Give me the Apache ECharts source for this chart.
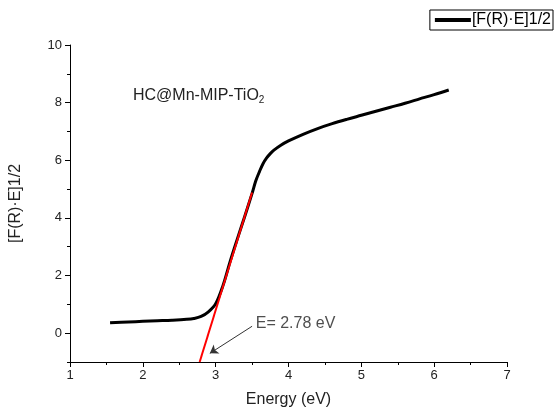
<!DOCTYPE html>
<html>
<head>
<meta charset="utf-8">
<script src="https://cdn.jsdelivr.net/npm/echarts@6/dist/echarts.min.js"></script>
<style>
  html, body { margin: 0; padding: 0; background: #fff; }
  #chart { width: 555px; height: 410px; }
</style>
</head>
<body>
<div id="chart"></div>
<script>
// Photon energy (eV) and the Kubelka-Munk Tauc function [F(R)·E]^1/2
const energy = [1.55, 1.8, 2.0, 2.2, 2.4, 2.6, 2.7, 2.8, 2.9, 3.0, 3.1, 3.2, 3.3, 3.4, 3.5,
                3.55, 3.6, 3.65, 3.7, 3.75, 3.8, 3.9, 4.0, 4.2, 4.4, 4.6, 4.8, 5.0, 5.2, 5.4,
                5.6, 5.8, 6.0, 6.2];
const tauc = [0.36, 0.39, 0.41, 0.43, 0.45, 0.48, 0.51, 0.58, 0.74, 1.02, 1.65, 2.5, 3.29, 4.06, 4.85,
              5.28, 5.6, 5.88, 6.08, 6.23, 6.35, 6.53, 6.67, 6.9, 7.1, 7.27, 7.42, 7.56, 7.7, 7.84,
              7.98, 8.13, 8.28, 8.44];

// Linear extrapolation of the absorption edge
const bandGap = 2.78;
const fitX = [bandGap, 3.5];
const fitY = [-1, 4.88];

// Axis ranges and tick labels
const xTicks = [1, 2, 3, 4, 5, 6, 7];
const yTicks = [0, 2, 4, 6, 8, 10];
const yMinorTicks = [-1, 1, 3, 5, 7, 9];
const yRange = [-1, 10];

const seriesName = '[F(R)·E]1/2';
const sampleName = 'HC@Mn-MIP-TiO';

const curveData = energy.map((e, i) => [e, tauc[i]]);
const fitData = fitX.map((e, i) => [e, fitY[i]]);

const font = 'Liberation Sans, Arial, sans-serif';
const chart = echarts.init(document.getElementById('chart'));

chart.setOption({
  animation: false,
  backgroundColor: '#fff',
  grid: { left: 70, right: 48, top: 45, bottom: 48, outerBoundsMode: 'none', containLabel: false },
  legend: {
    data: [{ name: seriesName }],
    right: 2, top: 10,
    orient: 'vertical',
    padding: [2, 2, 2, 5],
    borderColor: '#000', borderWidth: 1,
    itemWidth: 36, itemHeight: 4,
    icon: 'rect',
    textStyle: { fontFamily: font, fontSize: 16, color: '#000', padding: [0, 0, 0, -4] }
  },
  xAxis: {
    type: 'value',
    min: xTicks[0], max: xTicks[xTicks.length - 1], interval: 1,
    name: 'Energy (eV)', nameLocation: 'middle', nameGap: 30,
    nameTextStyle: { fontFamily: font, fontSize: 16, color: '#222' },
    axisLine: { onZero: false, lineStyle: { color: '#000', width: 1 } },
    axisTick: { inside: false, length: 5, lineStyle: { color: '#000' } },
    minorTick: { show: true, splitNumber: 2, length: 3, lineStyle: { color: '#000' } },
    axisLabel: { fontFamily: font, fontSize: 13, color: '#222', margin: 7 },
    splitLine: { show: false }
  },
  yAxis: [{
    type: 'value',
    min: yRange[0], max: yRange[1],
    name: seriesName, nameLocation: 'middle', nameGap: 46,
    nameTextStyle: { fontFamily: font, fontSize: 16, color: '#222' },
    axisLine: { onZero: false, lineStyle: { color: '#000', width: 1 } },
    axisTick: { customValues: yTicks, length: 5, lineStyle: { color: '#000' } },
    axisLabel: { customValues: yTicks, fontFamily: font, fontSize: 13, color: '#222', margin: 8 },
    splitLine: { show: false }
  }, {
    type: 'value',
    position: 'left',
    min: yRange[0], max: yRange[1],
    axisLine: { show: false },
    axisTick: { customValues: yMinorTicks, length: 3, lineStyle: { color: '#000' } },
    axisLabel: { show: false },
    splitLine: { show: false }
  }],
  graphic: [{
    type: 'text',
    left: 133, top: 88,
    style: {
      text: '{a|' + sampleName + '}{s|2}',
      rich: {
        a: { fontFamily: font, fontSize: 16, fill: '#222' },
        s: { fontFamily: font, fontSize: 10, fill: '#222', verticalAlign: 'bottom', padding: [9, 0, 0, 0] }
      }
    }
  }],
  series: [{
    name: seriesName,
    type: 'line',
    data: curveData,
    smooth: 0.35,
    showSymbol: false,
    lineStyle: { color: '#000', width: 3 },
    itemStyle: { color: '#000' },
    z: 2
  }, {
    name: 'fit',
    type: 'line',
    data: fitData,
    showSymbol: false,
    lineStyle: { color: '#ff0000', width: 2 },
    itemStyle: { color: '#ff0000' },
    z: 3,
    markLine: {
      silent: true,
      symbol: ['none', 'arrow'],
      symbolSize: 8,
      label: { show: false },
      lineStyle: { color: '#333', width: 1, type: 'solid' },
      data: [[{ coord: [3.5, 0.24] }, { coord: [2.92, -0.7] }]]
    }
  }, {
    name: 'label',
    type: 'scatter',
    data: [[3.55, 0.32]],
    symbolSize: 0,
    label: {
      show: true, position: 'right', distance: 0,
      formatter: 'E= ' + bandGap + ' eV',
      fontFamily: font, fontSize: 16, color: '#222'
    }
  }]
});
</script>
</body>
</html>
